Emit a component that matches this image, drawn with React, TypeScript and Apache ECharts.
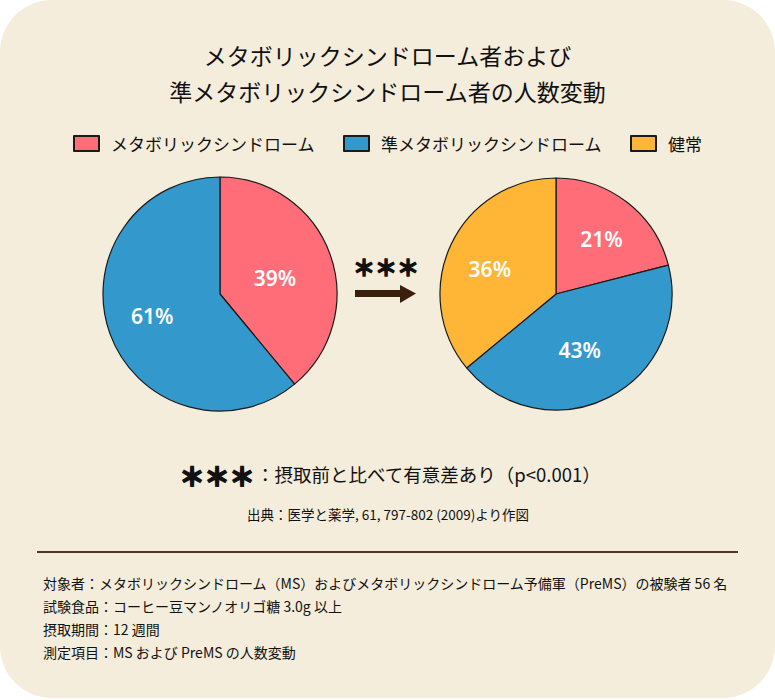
import React, { useEffect, useRef } from "react";
import * as echarts from "echarts";

const categories = ["メタボリックシンドローム", "準メタボリックシンドローム", "健常"];
const beforeValues = [39, 61];
const afterValues = [21, 43, 36];
const titleLines = ["メタボリックシンドローム者および", "準メタボリックシンドローム者の人数変動"];
const footnote = "：摂取前と比べて有意差あり（p<0.001）";
const sourceText = "出典：医学と薬学, 61, 797-802 (2009)より作図";
const infoLines = [
  "対象者：メタボリックシンドローム（MS）およびメタボリックシンドローム予備軍（PreMS）の被験者 56 名",
  "試験食品：コーヒー豆マンノオリゴ糖 3.0g 以上",
  "摂取期間：12 週間",
  "測定項目：MS および PreMS の人数変動",
];

const COLORS = ["#FF6E78", "#3398CC", "#FFB536"];
const JP = '"Noto Sans CJK JP", "Noto Sans", sans-serif';

const beforeOffsets = [[-3, 5], [-10, 1]];
const afterOffsets = [[8, -7], [-4, 2], [-11, 1]];

function pieSeries(values: number[], center: number[], radius: number, offsets: number[][]) {
  return {
    type: "pie",
    center,
    radius,
    startAngle: 90,
    clockwise: true,
    silent: true,
    data: values.map((v, i) => ({
      name: categories[i],
      value: v,
      itemStyle: { color: COLORS[i] },
    })),
    itemStyle: { borderColor: "#1a1a1a", borderWidth: 1.2 },
    label: {
      show: true,
      position: "inside",
      formatter: "{c}%",
      color: "#ffffff",
      fontSize: 21,
      fontWeight: 600,
      fontFamily: '"Noto Sans", sans-serif',
      letterSpacing: 2,
    },
    labelLine: { show: false },
    labelLayout: (p: any) => ({ dx: offsets[p.dataIndex][0], dy: offsets[p.dataIndex][1] }),
    emphasis: { disabled: true },
  };
}

export default function App() {
  const ref = useRef<HTMLDivElement>(null);
  useEffect(() => {
    if (!ref.current) return;
    const chart = echarts.init(ref.current, null, { renderer: "svg" });
    const graphics: any[] = [
      {
        type: "text",
        x: 386,
        y: 266,
        style: {
          text: "＊＊＊", fontSize: 22, fontWeight: "bold", fontFamily: JP, fill: "#111",
          stroke: "#111", lineWidth: 1.6, align: "center", verticalAlign: "middle",
        },
      },
      { type: "rect", shape: { x: 355, y: 290, width: 47, height: 7 }, style: { fill: "#3A1E0E" } },
      { type: "polygon", shape: { points: [[400, 285], [416, 293.5], [400, 303]] }, style: { fill: "#3A1E0E" } },
      {
        type: "text",
        x: 217,
        y: 475,
        style: {
          text: "＊＊＊", fontSize: 25, fontWeight: "bold", fontFamily: JP, fill: "#111",
          stroke: "#111", lineWidth: 2, align: "center", verticalAlign: "middle",
        },
      },
      {
        type: "text",
        x: 256,
        y: 474,
        style: { text: footnote, fontSize: 18.5, fontFamily: JP, fill: "#111", align: "left", verticalAlign: "middle" },
      },
      {
        type: "text",
        x: 388,
        y: 514,
        style: { text: sourceText, fontSize: 13.5, fontFamily: JP, fill: "#111", align: "center", verticalAlign: "middle" },
      },
      { type: "line", shape: { x1: 37, y1: 552, x2: 738, y2: 552 }, style: { stroke: "#4A3A2C", lineWidth: 2 } },
      ...infoLines.map((t, i) => ({
        type: "text",
        x: 43,
        y: 583 + i * 23,
        style: { text: t, fontSize: 14, fontFamily: JP, fill: "#111", align: "left", verticalAlign: "middle" },
      })),
    ];
    chart.setOption({
      animation: false,
      backgroundColor: "transparent",
      title: {
        text: titleLines.join("\n"),
        left: "center",
        top: 32,
        textStyle: { fontSize: 23, fontWeight: "normal", fontFamily: JP, color: "#111", lineHeight: 36 },
      },
      legend: {
        data: categories,
        left: "center",
        top: 130,
        icon: "rect",
        itemWidth: 25,
        itemHeight: 15,
        itemGap: 28,
        selectedMode: false,
        textStyle: { fontSize: 17, fontFamily: JP, color: "#111", padding: [0, 0, 0, 7] },
      },
      series: [
        pieSeries(beforeValues, [220, 294], 117, beforeOffsets),
        pieSeries(afterValues, [556, 294], 116, afterOffsets),
      ],
      graphic: graphics,
    });
    return () => chart.dispose();
  }, []);
  return (
    <div
      style={{
        position: "fixed",
        left: 0,
        top: 0,
        width: 775,
        height: 698,
        background: "#F4EDDC",
        borderRadius: 52,
      }}
    >
      <div ref={ref} style={{ width: 775, height: 698 }} />
    </div>
  );
}
